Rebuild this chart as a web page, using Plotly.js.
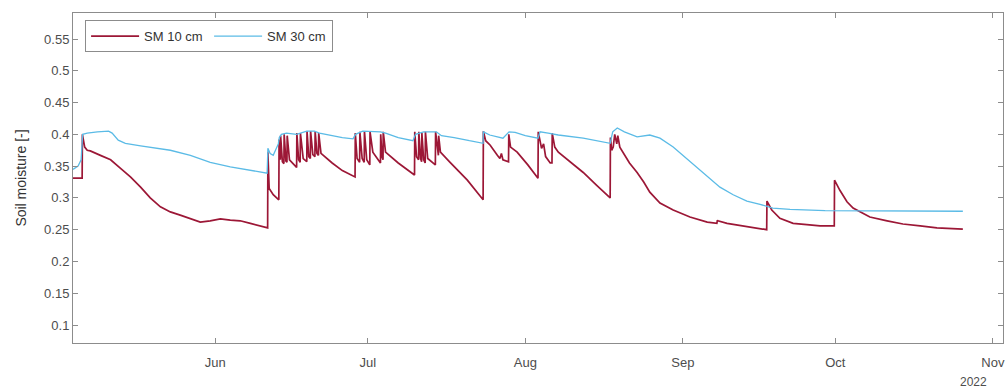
<!DOCTYPE html>
<html>
<head>
<meta charset="utf-8">
<script src="https://cdn.plot.ly/plotly-3.0.1.min.js"></script>
<style>
  html, body { margin: 0; padding: 0; background: #ffffff; }
  #chart { width: 1005px; height: 388px; }
</style>
</head>
<body>
<div id="chart"></div>
<script>
// Soil moisture at 10 cm depth: time as fractional day of year 2022, value in m3/m3
const sm10Day = [
  124.0, 125.8, 125.85, 126.3, 126.8, 127.4, 129.4, 131.4, 133.3, 135.3, 137.3, 139.2,
  141.2, 143.15, 145.1, 147.1, 149.05, 151.0, 153.0, 154.95, 156.9, 158.9, 160.85, 162.3,
  162.35, 162.6, 163.4, 164.5, 164.55, 164.8, 164.85, 165.2, 165.5, 165.55, 165.9, 166.1,
  166.15, 166.6, 168.0, 168.05, 168.4, 168.7, 168.75, 169.3, 170.0, 170.05, 170.4, 170.7,
  170.75, 171.2, 171.6, 171.65, 172.0, 172.3, 172.35, 172.8, 175.0, 177.0, 179.5,
  179.55, 179.9, 180.4, 180.45, 180.9, 181.3, 181.35, 181.8, 182.4, 182.45, 183.0, 184.5,
  184.55, 184.8, 185.0, 185.05, 185.5, 188.0, 191.2,
  191.25, 191.6, 192.0, 192.05, 192.4, 192.6, 192.65, 193.0, 193.3, 193.35, 193.8, 195.3,
  195.35, 195.7, 195.9, 195.95, 196.3, 198.2, 201.6, 204.7,
  204.75, 205.2, 206.1, 207.5, 208.0, 208.3, 208.6, 209.7, 209.75, 210.1, 210.4, 211.4,
  213.5, 215.5, 215.55, 216.2, 216.6, 217.0, 217.9, 218.25, 218.3, 218.8, 219.5, 222.0,
  224.4, 227.0, 229.7, 229.75, 230.0, 230.3, 230.6, 231.0, 231.2, 231.6, 232.2, 233.5,
  235.0, 236.3, 237.5, 239.5, 242.1, 245.4, 248.8, 250.7, 250.8, 250.9, 252.7, 256.6,
  260.5, 260.55, 261.5, 263.1, 265.7, 268.4, 271.0, 273.8, 273.85, 274.9, 276.3, 277.5,
  280.8, 284.2, 287.3, 290.7, 294.0, 299.1
];
const sm10 = [
  0.331, 0.331, 0.400, 0.380, 0.375, 0.374, 0.367, 0.360, 0.347, 0.333, 0.317, 0.300,
  0.286, 0.278, 0.273, 0.267, 0.262, 0.264, 0.267, 0.265, 0.264, 0.260, 0.256, 0.253,
  0.372, 0.315, 0.305, 0.297, 0.392, 0.360, 0.398, 0.357, 0.354, 0.400, 0.358, 0.356,
  0.398, 0.360, 0.348, 0.402, 0.360, 0.356, 0.402, 0.362, 0.357, 0.405, 0.365, 0.362,
  0.405, 0.368, 0.365, 0.405, 0.370, 0.367, 0.402, 0.370, 0.355, 0.343, 0.333,
  0.402, 0.362, 0.356, 0.404, 0.362, 0.356, 0.405, 0.360, 0.352, 0.404, 0.372, 0.355,
  0.400, 0.365, 0.360, 0.404, 0.372, 0.355, 0.336,
  0.404, 0.365, 0.360, 0.404, 0.362, 0.357, 0.402, 0.360, 0.355, 0.404, 0.362, 0.352,
  0.404, 0.372, 0.367, 0.398, 0.372, 0.356, 0.328, 0.297,
  0.405, 0.390, 0.383, 0.367, 0.362, 0.370, 0.360, 0.357, 0.400, 0.380, 0.378, 0.372,
  0.352, 0.331, 0.404, 0.378, 0.385, 0.365, 0.355, 0.355, 0.402, 0.380, 0.372, 0.355,
  0.340, 0.320, 0.300, 0.395, 0.375, 0.380, 0.400, 0.385, 0.398, 0.380, 0.372, 0.355,
  0.340, 0.325, 0.309, 0.292, 0.281, 0.270, 0.262, 0.260, 0.265, 0.264, 0.260, 0.255,
  0.250, 0.295, 0.281, 0.268, 0.260, 0.258, 0.256, 0.256, 0.328, 0.312, 0.294, 0.284,
  0.270, 0.264, 0.259, 0.256, 0.253, 0.251
];

// Soil moisture at 30 cm depth
const sm30Day = [
  124.0, 125.0, 125.6, 125.9, 126.8, 128.8, 131.0, 131.7, 132.9, 134.3, 137.3, 139.2,
  143.15, 147.1, 151.0, 154.95, 158.9, 162.2, 162.35, 162.8, 163.4, 164.4, 164.6, 165.0,
  166.0, 168.0, 170.0, 171.5, 172.5, 175.0, 177.0, 179.1, 179.6, 181.0, 182.5, 184.5,
  185.5, 188.0, 190.9, 191.4, 193.0, 195.5, 196.5, 199.0, 202.0, 204.7, 204.75, 206.0,
  208.6, 209.8, 211.0, 213.0, 215.5, 215.9, 217.5, 219.5, 224.4, 229.7, 230.2, 231.1,
  232.5, 235.0, 237.5, 239.5, 242.1, 244.0, 246.0, 248.8, 251.3, 253.9, 256.6, 259.2,
  261.7, 265.1, 268.4, 272.0, 299.1
];
const sm30 = [
  0.345, 0.350, 0.360, 0.400, 0.402, 0.404, 0.405, 0.402, 0.391, 0.386, 0.382, 0.380,
  0.375, 0.367, 0.356, 0.349, 0.344, 0.339, 0.378, 0.370, 0.367, 0.385, 0.395, 0.400,
  0.402, 0.400, 0.405, 0.405, 0.402, 0.398, 0.395, 0.393, 0.400, 0.405, 0.405, 0.404,
  0.402, 0.395, 0.390, 0.400, 0.404, 0.404, 0.398, 0.395, 0.390, 0.386, 0.404, 0.399,
  0.394, 0.404, 0.403, 0.398, 0.394, 0.404, 0.402, 0.399, 0.394, 0.386, 0.404, 0.410,
  0.404, 0.396, 0.399, 0.394, 0.380, 0.367, 0.352, 0.333, 0.317, 0.305, 0.295, 0.290,
  0.284, 0.282, 0.281, 0.280, 0.279
];

const monthTicks = ['2022-06-01', '2022-07-01', '2022-08-01', '2022-09-01', '2022-10-01', '2022-11-01'];
const monthLabels = ['Jun', 'Jul', 'Aug', 'Sep', 'Oct', 'Nov'];
const yTicks = [0.1, 0.15, 0.2, 0.25, 0.3, 0.35, 0.4, 0.45, 0.5, 0.55];
const yLabels = ['0.1', '0.15', '0.2', '0.25', '0.3', '0.35', '0.4', '0.45', '0.5', '0.55'];

// day of year (1 = Jan 1) -> timestamp string
function doyToDate(d) {
  const ms = Date.UTC(2022, 0, 1) + (d - 1) * 86400000;
  return new Date(ms).toISOString().replace('T', ' ').slice(0, 19);
}

const font = 'Liberation Sans, Arial, Helvetica, sans-serif';
const axisGray = '#8c8c8c';

const traces = [
  {
    type: 'scatter', mode: 'lines', name: 'SM 10 cm',
    x: sm10Day.map(doyToDate), y: sm10,
    line: { color: '#9c1736', width: 1.7 }
  },
  {
    type: 'scatter', mode: 'lines', name: 'SM 30 cm',
    x: sm30Day.map(doyToDate), y: sm30,
    line: { color: '#5bbbe6', width: 1.3 }
  }
];

const layout = {
  width: 1005, height: 388,
  margin: { l: 73, r: 2, t: 13, b: 45 },
  paper_bgcolor: '#ffffff', plot_bgcolor: '#ffffff',
  font: { family: font, size: 13, color: '#4d4d4d' },
  showlegend: true,
  legend: {
    orientation: 'h', x: 0.013, y: 0.978, xanchor: 'left', yanchor: 'top',
    bgcolor: '#ffffff', bordercolor: axisGray, borderwidth: 1,
    font: { family: font, size: 13, color: '#333333' },
    itemwidth: 48, entrywidth: 60, entrywidthmode: 'pixels', tracegroupgap: 0
  },
  xaxis: {
    type: 'date', range: ['2022-05-04', '2022-11-03'],
    tickmode: 'array', tickvals: monthTicks, ticktext: monthLabels,
    ticks: 'inside', ticklen: 5, tickcolor: axisGray, tickwidth: 1,
    showline: true, linecolor: axisGray, linewidth: 1, mirror: 'ticks',
    showgrid: false, zeroline: false, ticklabelstandoff: 7,
    tickfont: { family: font, size: 13, color: '#4d4d4d' }
  },
  yaxis: {
    range: [0.0717, 0.591],
    tickmode: 'array', tickvals: yTicks, ticktext: yLabels,
    ticks: 'inside', ticklen: 5, tickcolor: axisGray, tickwidth: 1,
    showline: true, linecolor: axisGray, linewidth: 1, mirror: 'ticks',
    showgrid: false, zeroline: false,
    tickfont: { family: font, size: 13, color: '#4d4d4d' },
    title: { text: 'Soil moisture [-]', font: { family: font, size: 14, color: '#333333' }, standoff: 14 }
  },
  annotations: [
    {
      text: '2022', xref: 'paper', yref: 'paper', x: 0.968, y: -0.09,
      xanchor: 'center', yanchor: 'top', showarrow: false,
      font: { family: font, size: 12, color: '#4d4d4d' }
    }
  ]
};

Plotly.newPlot('chart', traces, layout, { displayModeBar: false, staticPlot: true });
</script>
</body>
</html>
